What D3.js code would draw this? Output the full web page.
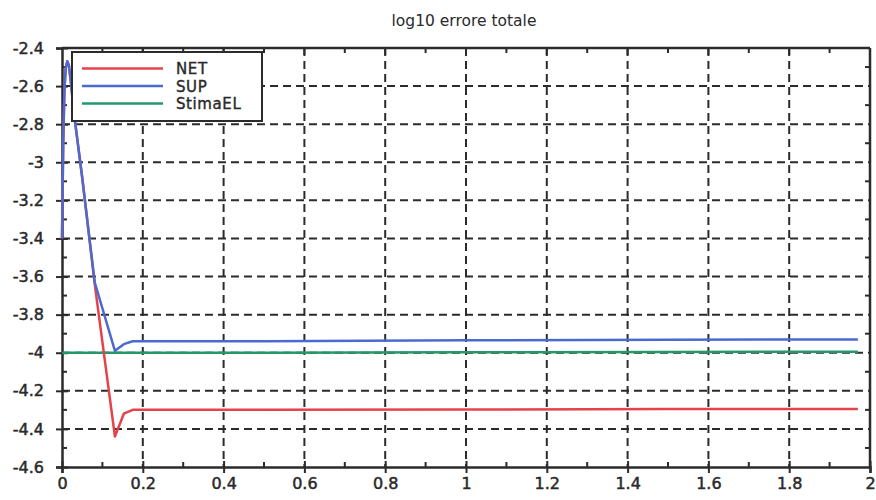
<!DOCTYPE html>
<html>
<head>
<meta charset="utf-8">
<script src="https://cdn.jsdelivr.net/npm/d3@7"></script>
<style>
  body { margin: 0; background: #fff; }
  text { font-family: "DejaVu Sans", sans-serif; fill: #2a2a2a; }
</style>
</head>
<body>
<div id="vis"></div>
<script>

var title = 'log10 errore totale';

// sample times and values
var tNet = [0, 0.003, 0.006, 0.009, 0.013, 0.017, 0.022, 0.03, 0.05, 0.081, 0.131, 0.153, 0.175, 0.2, 0.5, 1.0, 1.5, 1.97];
var netValues = [-3.4, -2.9, -2.62, -2.51, -2.47, -2.49, -2.58, -2.75, -3.08, -3.64, -4.44, -4.32, -4.30, -4.30, -4.30, -4.298, -4.296, -4.295];

var tSup = [0, 0.003, 0.006, 0.009, 0.013, 0.017, 0.022, 0.03, 0.05, 0.081, 0.131, 0.153, 0.175, 0.2, 0.5, 1.0, 1.5, 1.97];
var supValues = [-3.4, -2.9, -2.62, -2.51, -2.47, -2.49, -2.58, -2.75, -3.08, -3.63, -3.99, -3.955, -3.94, -3.94, -3.94, -3.935, -3.932, -3.93];

var tEl = [0, 0.5, 1.0, 1.5, 1.97];
var elValues = [-4.0, -4.0, -3.998, -3.996, -3.995];

var seriesNames = ['NET', 'SUP', 'StimaEL'];
var seriesColors = ['#e5434c', '#4a6ad0', '#23996b'];

var xTicks = [0, 0.2, 0.4, 0.6, 0.8, 1, 1.2, 1.4, 1.6, 1.8, 2];
var yTicks = [-2.4, -2.6, -2.8, -3, -3.2, -3.4, -3.6, -3.8, -4, -4.2, -4.4, -4.6];

var width = 876, height = 500;
var mLeft = 62, mRight = 870, mTop = 48, mBottom = 467;
var ink = '#2b2b2b';

var svg = d3.select('#vis').append('svg')
  .attr('width', width)
  .attr('height', height);

var x = d3.scaleLinear().domain([0, 2]).range([mLeft, mRight]);
var y = d3.scaleLinear().domain([-4.6, -2.4]).range([mBottom, mTop]);

// dashed grid
svg.append('g').selectAll('line')
  .data(xTicks.slice(1, -1))
  .enter().append('line')
  .attr('x1', function (d) { return x(d); })
  .attr('x2', function (d) { return x(d); })
  .attr('y1', mTop).attr('y2', mBottom)
  .attr('stroke', ink).attr('stroke-width', 2)
  .attr('stroke-dasharray', '8,5');

svg.append('g').selectAll('line')
  .data(yTicks.slice(1, -1))
  .enter().append('line')
  .attr('y1', function (d) { return y(d); })
  .attr('y2', function (d) { return y(d); })
  .attr('x1', mLeft).attr('x2', mRight)
  .attr('stroke', ink).attr('stroke-width', 2)
  .attr('stroke-dasharray', '8,5');

// axes
var xAxis = d3.axisBottom(x).tickValues(xTicks).tickSize(6).tickPadding(5)
  .tickFormat(function (d) { return String(d); });
var gx = svg.append('g').attr('transform', 'translate(0,' + mBottom + ')').call(xAxis);
gx.selectAll('.tick line').attr('y1', -6).attr('y2', 6);

var yAxis = d3.axisLeft(y).tickValues(yTicks).tickSize(6).tickPadding(12)
  .tickFormat(function (d) { return String(d); });
var gy = svg.append('g').attr('transform', 'translate(' + mLeft + ',0)').call(yAxis);
gy.selectAll('.tick line').attr('x1', -6).attr('x2', 6);

[gx, gy].forEach(function (g) {
  g.select('.domain').attr('stroke', ink).attr('stroke-width', 2.5);
  g.selectAll('.tick line').attr('stroke', ink).attr('stroke-width', 2);
  g.selectAll('.tick text').attr('font-size', 16).attr('fill', '#2a2a2a')
    .attr('stroke', '#2a2a2a').attr('stroke-width', 0.5)
    .style('font-family', '"DejaVu Sans", sans-serif');
});

// minor ticks
var xMinor = d3.range(0.1, 2, 0.2);
svg.append('g').selectAll('line')
  .data(xMinor).enter().append('line')
  .attr('x1', function (d) { return x(d); }).attr('x2', function (d) { return x(d); })
  .attr('y1', mBottom - 5).attr('y2', mBottom)
  .attr('stroke', ink).attr('stroke-width', 2);
svg.append('g').selectAll('line')
  .data(xMinor).enter().append('line')
  .attr('x1', function (d) { return x(d); }).attr('x2', function (d) { return x(d); })
  .attr('y1', mTop).attr('y2', mTop + 5)
  .attr('stroke', ink).attr('stroke-width', 2);
svg.append('g').selectAll('line')
  .data(xTicks.slice(1, -1)).enter().append('line')
  .attr('x1', function (d) { return x(d); }).attr('x2', function (d) { return x(d); })
  .attr('y1', mTop).attr('y2', mTop + 7)
  .attr('stroke', ink).attr('stroke-width', 2);

var yMinor = d3.range(-4.5, -2.4, 0.2);
svg.append('g').selectAll('line')
  .data(yMinor).enter().append('line')
  .attr('y1', function (d) { return y(d); }).attr('y2', function (d) { return y(d); })
  .attr('x1', mLeft).attr('x2', mLeft + 5)
  .attr('stroke', ink).attr('stroke-width', 2);
svg.append('g').selectAll('line')
  .data(yMinor).enter().append('line')
  .attr('y1', function (d) { return y(d); }).attr('y2', function (d) { return y(d); })
  .attr('x1', mRight - 5).attr('x2', mRight)
  .attr('stroke', ink).attr('stroke-width', 2);

// top and right frame
svg.append('line').attr('x1', mLeft).attr('x2', mRight).attr('y1', mTop).attr('y2', mTop)
  .attr('stroke', ink).attr('stroke-width', 2.5);
svg.append('line').attr('x1', mRight).attr('x2', mRight).attr('y1', mTop).attr('y2', mBottom)
  .attr('stroke', ink).attr('stroke-width', 2.5);

// series
var line = d3.line()
  .x(function (d) { return x(d[0]); })
  .y(function (d) { return y(d[1]); });

var series = [d3.zip(tNet, netValues), d3.zip(tSup, supValues), d3.zip(tEl, elValues)];

svg.append('g').selectAll('path')
  .data([2, 0, 1])
  .enter().append('path')
  .attr('d', function (i) { return line(series[i]); })
  .attr('fill', 'none')
  .attr('stroke', function (i) { return seriesColors[i]; })
  .attr('stroke-width', 2.5)
  .attr('stroke-linejoin', 'round');

// legend
var legend = svg.append('g');
legend.append('rect')
  .attr('x', 72).attr('y', 52).attr('width', 190).attr('height', 69)
  .attr('fill', '#fff').attr('stroke', ink).attr('stroke-width', 2);

seriesNames.forEach(function (name, i) {
  var ly = 68.5 + i * 17.5;
  legend.append('line')
    .attr('x1', 82).attr('x2', 163).attr('y1', ly).attr('y2', ly)
    .attr('stroke', seriesColors[i]).attr('stroke-width', 2.5);
  legend.append('text')
    .attr('x', 176).attr('y', ly + 5.5)
    .attr('font-size', 15)
    .attr('letter-spacing', 0.6)
    .attr('stroke', '#2a2a2a').attr('stroke-width', 0.4)
    .text(name);
});

svg.append('text')
  .attr('x', 464).attr('y', 26)
  .attr('text-anchor', 'middle')
  .attr('font-size', 15.5)
  .text(title);

</script>
</body>
</html>
